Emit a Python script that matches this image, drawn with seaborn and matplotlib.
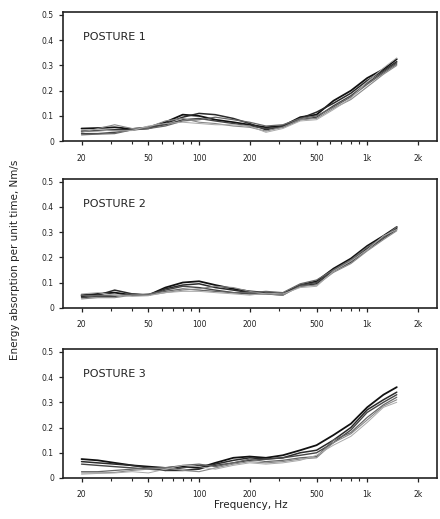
import numpy as np
import pandas as pd
import matplotlib
matplotlib.use("Agg")
import matplotlib.pyplot as plt
from matplotlib.ticker import FixedLocator, NullFormatter
import seaborn as sns

# frequency grid (Hz), one-third octave bands
freqs = [20, 25, 31.5, 40, 50, 63, 80, 100, 125, 160, 200, 250, 315, 400,
         500, 630, 800, 1000, 1250, 1500]

posture1 = [
    [.050, .052, .055, .048, .055, .075, .105, .100, .085, .075, .065, .055, .060, .095, .105, .160, .200, .250, .285, .325],
    [.040, .042, .045, .045, .050, .070, .095, .110, .105, .090, .070, .045, .060, .090, .115, .150, .190, .240, .280, .315],
    [.030, .030, .035, .045, .055, .065, .085, .090, .080, .070, .060, .050, .055, .085, .095, .140, .180, .230, .275, .310],
    [.025, .028, .030, .045, .050, .060, .080, .085, .095, .085, .075, .060, .065, .090, .100, .135, .175, .225, .270, .305],
    [.035, .050, .065, .050, .055, .080, .090, .075, .070, .060, .055, .040, .055, .085, .090, .130, .165, .215, .265, .300],
    [.045, .045, .040, .042, .060, .070, .075, .070, .065, .065, .060, .035, .050, .080, .085, .125, .170, .235, .290, .330],
]
posture2 = [
    [.050, .055, .060, .050, .050, .080, .100, .105, .090, .075, .065, .060, .055, .090, .105, .155, .195, .245, .285, .320],
    [.045, .050, .070, .055, .050, .075, .090, .095, .080, .070, .060, .060, .055, .085, .095, .150, .185, .235, .280, .315],
    [.040, .045, .045, .055, .050, .070, .085, .080, .070, .060, .055, .055, .050, .090, .100, .145, .180, .230, .275, .310],
    [.050, .048, .050, .050, .055, .065, .075, .070, .065, .060, .060, .065, .060, .095, .110, .150, .190, .240, .280, .320],
    [.035, .040, .040, .050, .050, .060, .070, .075, .085, .080, .065, .055, .050, .085, .090, .140, .175, .225, .270, .305],
    [.055, .060, .050, .045, .048, .060, .065, .065, .060, .055, .050, .058, .055, .080, .085, .145, .185, .230, .285, .310],
]
posture3 = [
    [.075, .070, .060, .050, .045, .040, .045, .040, .060, .080, .085, .080, .090, .110, .130, .170, .215, .280, .330, .360],
    [.065, .060, .055, .050, .040, .030, .030, .035, .055, .070, .080, .075, .080, .100, .110, .150, .200, .270, .310, .340],
    [.055, .050, .045, .040, .035, .030, .040, .050, .050, .060, .070, .075, .080, .090, .100, .140, .190, .260, .300, .330],
    [.025, .025, .030, .035, .040, .040, .050, .055, .045, .060, .075, .065, .070, .080, .085, .150, .180, .240, .290, .320],
    [.020, .020, .022, .030, .035, .040, .030, .025, .040, .055, .065, .060, .065, .075, .080, .140, .175, .230, .285, .310],
    [.015, .018, .020, .025, .020, .035, .050, .045, .035, .050, .060, .055, .060, .070, .090, .130, .165, .220, .280, .300],
]
panels = [("POSTURE 1", posture1), ("POSTURE 2", posture2), ("POSTURE 3", posture3)]

xticks = [20, 50, 100, 200, 500, 1000, 2000]
xticklabels = ["20", "50", "100", "200", "500", "1k", "2k"]
yticks = [0, 0.1, 0.2, 0.3, 0.4, 0.5]
yticklabels = ["0", "0.1", "0.2", "0.3", "0.4", "0.5"]

line_colors = ["#111111", "#2a2a2a", "#444444", "#666666", "#888888", "#aaaaaa"]
line_widths = [1.3, 1.1, 1.0, 0.9, 0.8, 0.7]

sns.set_style("ticks")
plt.rcParams["font.family"] = ["DejaVu Sans"]

fig = plt.figure(figsize=(4.4, 5.19), dpi=100)
bottoms = [0.728, 0.407, 0.079]
for (title, curves), b in zip(panels, bottoms):
    ax = fig.add_axes([0.143, b, 0.85, 0.248])
    for i, vals in enumerate(curves):
        df = pd.DataFrame({"freq": freqs, "energy": vals})
        sns.lineplot(data=df, x="freq", y="energy", ax=ax, color=line_colors[i],
                     lw=line_widths[i], legend=False)
    ax.set_xscale("log")
    ax.set_xlim(15.5, 2600)
    ax.set_ylim(0, 0.51)
    ax.set_xticks(xticks)
    ax.set_xticklabels(xticklabels)
    minor = [30, 40, 60, 70, 80, 90, 300, 400, 600, 700, 800, 900]
    ax.xaxis.set_minor_locator(FixedLocator(minor))
    ax.xaxis.set_minor_formatter(NullFormatter())
    ax.set_yticks(yticks)
    ax.set_yticklabels(yticklabels)
    ax.tick_params(axis="both", which="major", labelsize=5.5, length=3, width=0.9,
                   direction="out", colors="#222222")
    ax.tick_params(axis="x", which="minor", length=2, width=0.8, direction="out")
    ax.tick_params(axis="x", pad=6)
    for s in ax.spines.values():
        s.set_linewidth(1.2)
        s.set_color("#222222")
    ax.set_xlabel("")
    ax.set_ylabel("")
    ax.text(0.053, 0.81, title, transform=ax.transAxes, fontsize=8,
            color="#222222", va="center", ha="left")

fig.text(0.57, 0.027, "Frequency, Hz", ha="center", va="center", fontsize=7.5,
         color="#222222")
fig.text(0.035, 0.5, "Energy absorption per unit time, Nm/s", ha="center",
         va="center", rotation=90, fontsize=7.5, color="#222222")

fig.savefig("out.png", dpi=100)
